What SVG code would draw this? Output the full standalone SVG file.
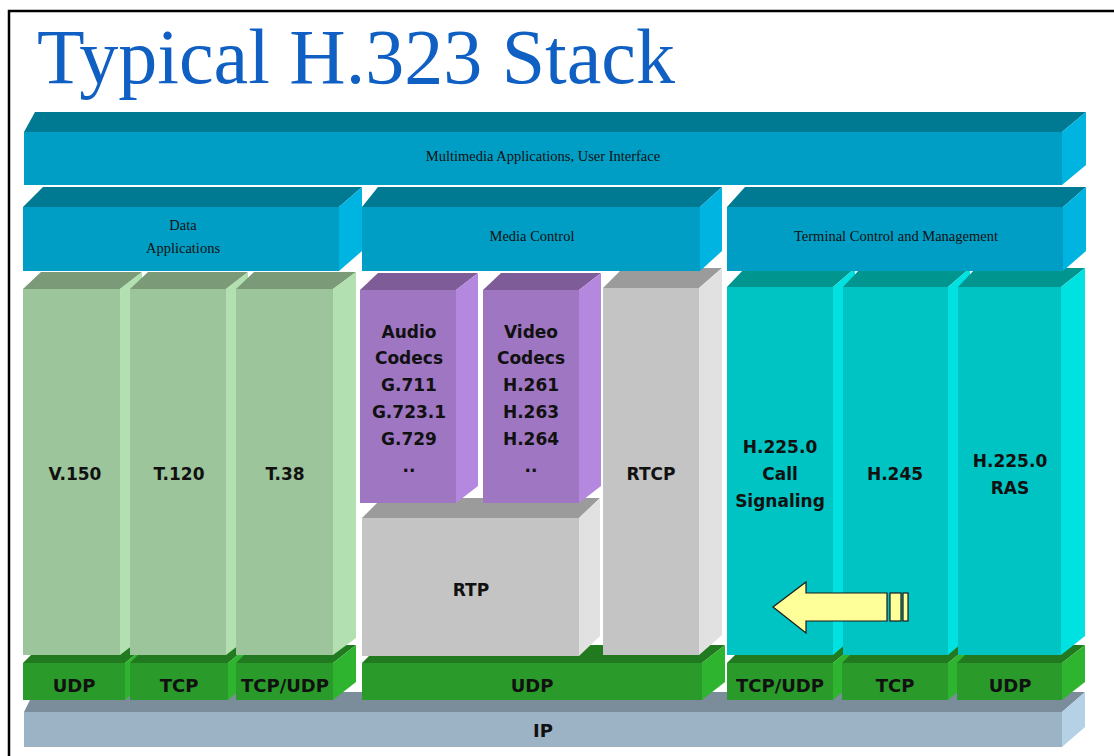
<svg xmlns="http://www.w3.org/2000/svg" width="1114" height="756" viewBox="0 0 1114 756">
<style>
.bg{fill:#ffffff}
.frame{fill:none;stroke:#000;stroke-width:2.5}
.title{font-family:"Liberation Serif","Times New Roman",serif;font-size:78px;fill:#1060c4}
.lbl{font-family:"Liberation Serif","Times New Roman",serif;font-size:14.5px;fill:#111;text-anchor:middle}
.bl{font-family:"DejaVu Sans",Verdana,sans-serif;font-weight:bold;font-size:17px;fill:#111;text-anchor:middle}
.tl{font-family:"DejaVu Sans",Verdana,sans-serif;font-weight:bold;font-size:18px;fill:#111;text-anchor:middle}
.bF{fill:#009ec5}.bT{fill:#007a93}.bS{fill:#00b4e2}
.gF{fill:#9dc59b}.gT{fill:#7b9a78}.gS{fill:#b3e0b1}
.pF{fill:#9f76c2}.pT{fill:#7d5c97}.pS{fill:#b588e0}
.yF{fill:#c4c4c4}.yT{fill:#9b9b9b}.yS{fill:#e1e1e1}
.cF{fill:#00c3c3}.cT{fill:#00968f}.cS{fill:#00e2e2}
.tF{fill:#2a9a2a}.tT{fill:#227a20}.tS{fill:#2fb42f}
.iF{fill:#9cb3c5}.iT{fill:#7b8d9b}.iS{fill:#b5d1e5}
.arrow{fill:#ffff99;stroke:#1a1a1a;stroke-width:1.2}
</style>
<rect class="bg" x="0" y="0" width="1114" height="756"/>
<path class="frame" d="M9,756 V11 H1114"/>
<text class="title" x="37" y="83" textLength="638" lengthAdjust="spacingAndGlyphs">Typical H.323 Stack</text>

<g id="ip">
<polygon class="iT" points="24,712 34,692 1085,692 1062,712"/>
<polygon class="iS" points="1062,712 1085,692 1085,727 1062,747"/>
<rect class="iF" x="24" y="712" width="1038" height="35"/>
<text class="tl" x="543" y="737">IP</text>
</g>

<g id="udp-data">
<polygon class="tT" points="23,663 41,645 147,645 125,663"/>
<polygon class="tS" points="125,663 147,645 147,682 125,700"/>
<rect class="tF" x="23" y="663" width="102" height="37"/>
<text class="tl" x="74" y="692">UDP</text>
</g>
<g id="tcp-data">
<polygon class="tT" points="130,663 148,645 250,645 228,663"/>
<polygon class="tS" points="228,663 250,645 250,682 228,700"/>
<rect class="tF" x="130" y="663" width="98" height="37"/>
<text class="tl" x="179" y="692">TCP</text>
</g>
<g id="tcpudp-data">
<polygon class="tT" points="236,663 254,645 356,645 333,663"/>
<polygon class="tS" points="333,663 356,645 356,682 333,700"/>
<rect class="tF" x="236" y="663" width="97" height="37"/>
<text class="tl" x="285" y="692">TCP/UDP</text>
</g>
<g id="udp-media">
<polygon class="tT" points="362,663 380,645 725,645 702,663"/>
<polygon class="tS" points="702,663 725,645 725,682 702,700"/>
<rect class="tF" x="362" y="663" width="340" height="37"/>
<text class="tl" x="532" y="692">UDP</text>
</g>
<g id="tcpudp-term">
<polygon class="tT" points="727,663 745,645 855,645 833,663"/>
<polygon class="tS" points="833,663 855,645 855,682 833,700"/>
<rect class="tF" x="727" y="663" width="106" height="37"/>
<text class="tl" x="780" y="692">TCP/UDP</text>
</g>
<g id="tcp-term">
<polygon class="tT" points="842,663 860,645 970,645 948,663"/>
<polygon class="tS" points="948,663 970,645 970,682 948,700"/>
<rect class="tF" x="842" y="663" width="106" height="37"/>
<text class="tl" x="895" y="692">TCP</text>
</g>
<g id="udp-term">
<polygon class="tT" points="957,663 975,645 1085,645 1062,663"/>
<polygon class="tS" points="1062,663 1085,645 1085,682 1062,700"/>
<rect class="tF" x="957" y="663" width="105" height="37"/>
<text class="tl" x="1010" y="692">UDP</text>
</g>

<g id="v150">
<polygon class="gT" points="23,289 41,272 142,272 120,289"/>
<polygon class="gS" points="120,289 142,272 142,638 120,655"/>
<rect class="gF" x="23" y="289" width="97" height="366"/>
<text class="bl" x="75" y="480">V.150</text>
</g>
<g id="t120">
<polygon class="gT" points="130,289 148,272 248,272 226,289"/>
<polygon class="gS" points="226,289 248,272 248,638 226,655"/>
<rect class="gF" x="130" y="289" width="96" height="366"/>
<text class="bl" x="179" y="480">T.120</text>
</g>
<g id="t38">
<polygon class="gT" points="236,289 254,272 356,272 333,289"/>
<polygon class="gS" points="333,289 356,272 356,638 333,655"/>
<rect class="gF" x="236" y="289" width="97" height="366"/>
<text class="bl" x="285" y="480">T.38</text>
</g>

<g id="rtp">
<polygon class="yT" points="362,518 382,498 600,498 579,518"/>
<polygon class="yS" points="579,518 600,498 600,636 579,656"/>
<rect class="yF" x="362" y="518" width="217" height="138"/>
<text class="bl" x="471" y="596">RTP</text>
</g>
<g id="audio">
<polygon class="pT" points="360,290 378,273 478,273 456,290"/>
<polygon class="pS" points="456,290 478,273 478,486 456,503"/>
<rect class="pF" x="360" y="290" width="96" height="213"/>
<text class="bl" x="409" y="338">Audio</text>
<text class="bl" x="409" y="364">Codecs</text>
<text class="bl" x="409" y="391">G.711</text>
<text class="bl" x="409" y="418">G.723.1</text>
<text class="bl" x="409" y="445">G.729</text>
<text class="bl" x="409" y="472">..</text>
</g>
<g id="video">
<polygon class="pT" points="483,290 501,273 601,273 579,290"/>
<polygon class="pS" points="579,290 601,273 601,486 579,503"/>
<rect class="pF" x="483" y="290" width="96" height="213"/>
<text class="bl" x="531" y="338">Video</text>
<text class="bl" x="531" y="364">Codecs</text>
<text class="bl" x="531" y="391">H.261</text>
<text class="bl" x="531" y="418">H.263</text>
<text class="bl" x="531" y="445">H.264</text>
<text class="bl" x="531" y="472">..</text>
</g>
<g id="rtcp">
<polygon class="yT" points="603,288 623,268 722,268 699,288"/>
<polygon class="yS" points="699,288 722,268 722,635 699,655"/>
<rect class="yF" x="603" y="288" width="96" height="367"/>
<text class="bl" x="651" y="480">RTCP</text>
</g>

<g id="call-signaling">
<polygon class="cT" points="727,287 745,268 855,268 833,287"/>
<polygon class="cS" points="833,287 855,268 855,636 833,655"/>
<rect class="cF" x="727" y="287" width="106" height="368"/>
<text class="bl" x="780" y="453">H.225.0</text>
<text class="bl" x="780" y="480">Call</text>
<text class="bl" x="780" y="507">Signaling</text>
</g>
<g id="h245">
<polygon class="cT" points="843,287 861,268 970,268 948,287"/>
<polygon class="cS" points="948,287 970,268 970,636 948,655"/>
<rect class="cF" x="843" y="287" width="105" height="368"/>
<text class="bl" x="895" y="480">H.245</text>
</g>
<g id="ras">
<polygon class="cT" points="958,287 976,268 1085,268 1061,287"/>
<polygon class="cS" points="1061,287 1085,268 1085,636 1061,655"/>
<rect class="cF" x="958" y="287" width="103" height="368"/>
<text class="bl" x="1010" y="467">H.225.0</text>
<text class="bl" x="1010" y="494">RAS</text>
</g>

<g id="arrow">
<polygon class="arrow" points="773,607 806,582 806,593 887,593 887,621 806,621 806,633"/>
<rect class="arrow" x="890" y="593" width="11" height="28"/>
<rect class="arrow" x="903" y="593" width="5" height="28"/>
</g>

<g id="data-apps">
<polygon class="bT" points="23,207 43,187 362,187 339,207"/>
<polygon class="bS" points="339,207 362,187 362,251 339,271"/>
<rect class="bF" x="23" y="207" width="316" height="64"/>
<text class="lbl" x="183" y="230">Data</text>
<text class="lbl" x="183" y="253">Applications</text>
</g>
<g id="media-control">
<polygon class="bT" points="362,207 378,187 722,187 700,207"/>
<polygon class="bS" points="700,207 722,187 722,251 700,271"/>
<rect class="bF" x="362" y="207" width="338" height="64"/>
<text class="lbl" x="532" y="241">Media Control</text>
</g>
<g id="terminal-control">
<polygon class="bT" points="727,207 745,187 1086,187 1063,207"/>
<polygon class="bS" points="1063,207 1086,187 1086,251 1063,271"/>
<rect class="bF" x="727" y="207" width="336" height="64"/>
<text class="lbl" x="896" y="241">Terminal Control and Management</text>
</g>

<g id="multimedia-apps">
<polygon class="bT" points="24,132 35,112 1086,112 1062,132"/>
<polygon class="bS" points="1062,132 1086,112 1086,165 1062,185"/>
<rect class="bF" x="24" y="132" width="1038" height="53"/>
<text class="lbl" x="543" y="161">Multimedia Applications, User Interface</text>
</g>
<g id="connectors"/>
</svg>
